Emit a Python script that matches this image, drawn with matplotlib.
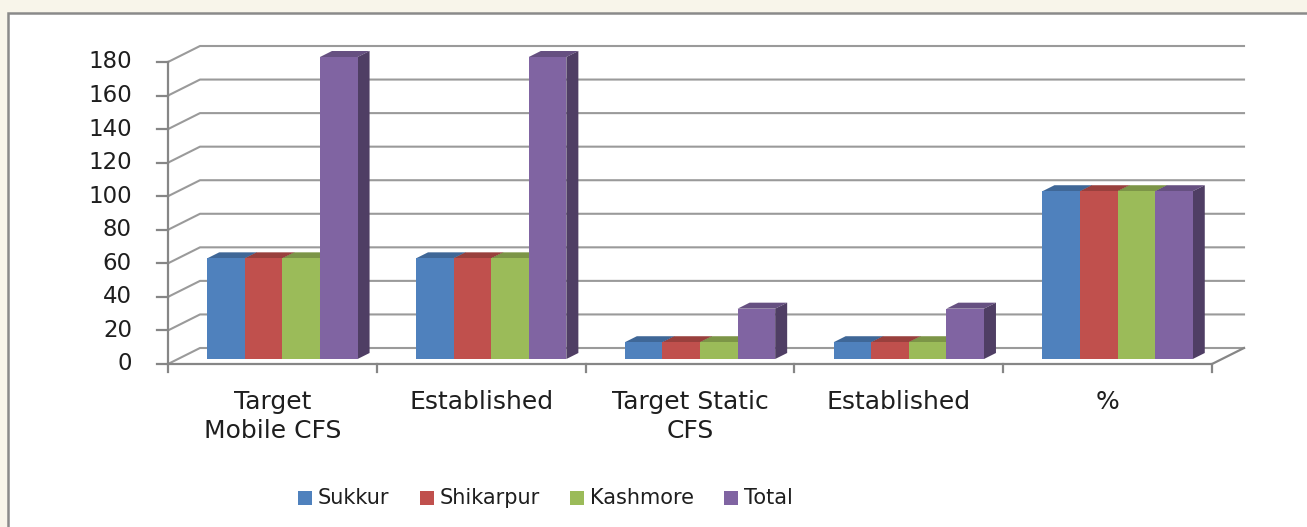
import matplotlib
matplotlib.use("Agg")
import matplotlib.pyplot as plt
from matplotlib.patches import Polygon, Rectangle
from matplotlib.transforms import IdentityTransform, offset_copy
from matplotlib.lines import Line2D

# ---------------- data ----------------
categories = ["Target\nMobile CFS", "Established", "Target Static\nCFS", "Established", "%"]
series_names = ["Sukkur", "Shikarpur", "Kashmore", "Total"]
sukkur = [60, 60, 10, 10, 100]
shikarpur = [60, 60, 10, 10, 100]
kashmore = [60, 60, 10, 10, 100]
total = [180, 180, 30, 30, 100]
y_ticks = [0, 20, 40, 60, 80, 100, 120, 140, 160, 180]

series_values = [sukkur, shikarpur, kashmore, total]
front_colors = ["#4F81BD", "#C0504D", "#9BBB59", "#8064A2"]


def shade(hexcol, f):
    r, g, b = (int(hexcol[i:i + 2], 16) for i in (1, 3, 5))
    return "#%02x%02x%02x" % (int(r * f), int(g * f), int(b * f))


top_colors = [shade(c, 0.80) for c in front_colors]
side_colors = [shade(c, 0.62) for c in front_colors]

# ---------------- figure ----------------
W, H = 1307, 527
fig = plt.figure(figsize=(W / 100, H / 100), dpi=100, facecolor="#F8F5EA")

# white panel with gray border
panel = Rectangle((8 / W, -20 / H), (W + 20) / W, (H - 13 + 20) / H,
                  transform=fig.transFigure, facecolor="white",
                  edgecolor="#8A8A8A", linewidth=1.8, clip_on=False, zorder=-10)
fig.patches.append(panel)

ax = fig.add_axes([168 / W, (H - 364) / H, (1212 - 168) / W, 302 / H])
ax.set_xlim(0, len(categories))
ax.set_ylim(0, 180)
ax.axis("off")
ax.patch.set_alpha(0)
ax.set_zorder(5)

DX, DY = 32.0, 16.0  # full depth offset in pixels
ID = IdentityTransform()


def P(x, v, d):
    px, py = ax.transData.transform((x, v))
    return (px + d * DX, py + d * DY)


grid_col = "#9A9A9A"
axis_col = "#868686"
ncat = len(categories)

# back wall + left wall gridlines
for v in y_ticks:
    a = P(0, v, 0)
    b = P(0, v, 1)
    c = P(ncat, v, 1)
    ax.add_line(Line2D([a[0], b[0], c[0]], [a[1], b[1], c[1]], transform=ID,
                       color=grid_col, lw=1.5, clip_on=False, zorder=1))
    # y tick marks
    ax.add_line(Line2D([a[0] - 11, a[0]], [a[1], a[1]], transform=ID,
                       color=axis_col, lw=1.6, clip_on=False, zorder=2))
    ax.text(0, v, str(v), transform=offset_copy(ax.transData, fig, x=-36, y=0, units="dots"),
            ha="right", va="center", fontsize=16.5, color="#1E1E1E",
            family="DejaVu Sans")

# front y axis
a = P(0, 0, 0)
b = P(0, 180, 0)
ax.add_line(Line2D([a[0], b[0]], [a[1], b[1]], transform=ID,
                   color=axis_col, lw=1.6, clip_on=False, zorder=2))
# floor front edge and right edge
c = P(ncat, 0, 0)
d = P(ncat, 0, 1)
ax.add_line(Line2D([a[0], c[0], d[0]], [a[1], c[1], d[1]], transform=ID,
                   color=axis_col, lw=1.6, clip_on=False, zorder=2))
for i in range(ncat + 1):
    t = P(i, 0, 0)
    ax.add_line(Line2D([t[0], t[0]], [t[1], t[1] - 8], transform=ID,
                       color=axis_col, lw=1.6, clip_on=False, zorder=2))

# bars
bw = 0.18
d0, d1 = 0.3125, 0.6875
for i in range(ncat):
    start = i + 0.5 - 2 * bw
    for j, vals in enumerate(series_values):
        v = vals[i]
        L = start + j * bw
        R = L + bw
        fl = P(L, 0, d0); fr = P(R, 0, d0)
        tl = P(L, v, d0); tr = P(R, v, d0)
        btl = P(L, v, d1); btr = P(R, v, d1); bbr = P(R, 0, d1)
        z = 3 + j * 0.1
        ax.add_patch(Polygon([tl, tr, btr, btl], closed=True, transform=ID,
                             facecolor=top_colors[j], edgecolor="none",
                             clip_on=False, zorder=z))
        ax.add_patch(Polygon([fr, tr, btr, bbr], closed=True, transform=ID,
                             facecolor=side_colors[j], edgecolor="none",
                             clip_on=False, zorder=z))
        ax.add_patch(Polygon([fl, fr, tr, tl], closed=True, transform=ID,
                             facecolor=front_colors[j], edgecolor="none",
                             clip_on=False, zorder=z + 0.05))

# category labels
for i, lab in enumerate(categories):
    ax.text(i + 0.5, 0, lab,
            transform=offset_copy(ax.transData, fig, x=0, y=-26, units="dots"),
            ha="center", va="top", fontsize=18, color="#1E1E1E",
            linespacing=1.25, family="DejaVu Sans")

# legend (manual)
renderer = fig.canvas.get_renderer()
x = 298
yc = H - 497.5
sq = 14
for j, name in enumerate(series_names):
    fig.patches.append(Rectangle((x / W, (yc - sq / 2) / H), sq / W, sq / H,
                                 transform=fig.transFigure, facecolor=front_colors[j],
                                 edgecolor="none", zorder=5))
    t = fig.text((x + sq + 6) / W, yc / H, name, ha="left", va="center",
                 fontsize=15, color="#1E1E1E", family="DejaVu Sans")
    ext = t.get_window_extent(renderer)
    x = ext.x1 + 30

fig.savefig("out.png", dpi=100, facecolor=fig.get_facecolor())
